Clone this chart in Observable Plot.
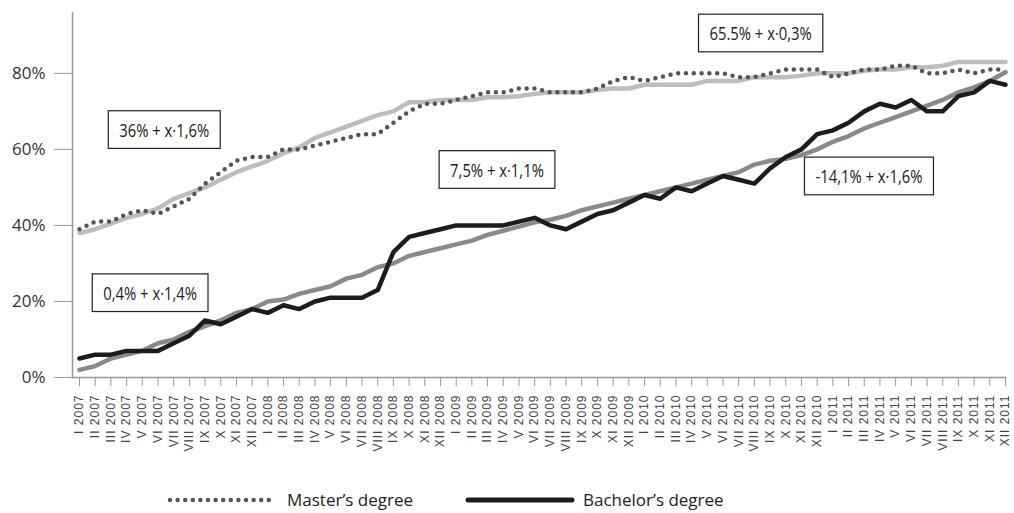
<!DOCTYPE html>
<html>
<head>
<meta charset="utf-8">
<script src="https://cdn.jsdelivr.net/npm/d3@7"></script>
<script src="https://cdn.jsdelivr.net/npm/@observablehq/plot@0.6"></script>
<style>
  html, body { margin: 0; padding: 0; background: #fff; }
  #wrap { position: relative; width: 1014px; height: 513px; }
  #legend { position: relative; height: 43px; font-family: "Open Sans", sans-serif; font-size: 17px; color: #222; }
  #legend .item { position: absolute; top: 18px; height: 24px; line-height: 24px; }
  #legend svg { position: absolute; top: 18px; }
  g[aria-label="x-axis tick label"] text { letter-spacing: 1px; }
</style>
</head>
<body>
<div id="wrap">
  <div id="chart"></div>
  <div id="legend">
    <svg width="112" height="24" style="left:166px">
      <line x1="4" x2="108" y1="12" y2="12" stroke="#555" stroke-width="4.5" stroke-dasharray="0 7.6" stroke-linecap="round"></line>
    </svg>
    <div class="item" style="left:287px">Master’s degree</div>
    <svg width="112" height="24" style="left:464px">
      <line x1="4" x2="108" y1="12" y2="12" stroke="#1c1c1c" stroke-width="5" stroke-linecap="round"></line>
    </svg>
    <div class="item" style="left:583px">Bachelor’s degree</div>
  </div>
</div>
<script>
// Month tick labels (categories)
const romans = ["I","II","III","IV","V","VI","VII","VIII","IX","X","XI","XII"];
const years = [2007, 2008, 2009, 2010, 2011];
const months = years.flatMap(y => romans.map(r => r + " " + y));

// Series values (percent)
const master = [39,41,41,43,44,43,45,47,51,54,57,58,58,60,60,61,62,63,64,64,67,70,72,72,73,74,75,75,76,76,75,75,75,76,78,79,78,79,80,80,80,80,79,79,80,81,81,81,79,80,81,81,82,82,80,80,81,80,81,81];
const masterTrend = [38,39,40.5,42,43,44.5,47,48.5,50,52,54,55.5,57,59,60.5,63,64.5,66,67.5,69,70,72.4,72.4,73,73,73,73.7,73.7,74,74.6,75,75,75,75.6,76,76,77,77,77,77,78,78,78,79,79,79,79.4,80,80,80,80.7,81,81,81.6,81.6,82,83,83,83,83];
const bachelor = [5,6,6,7,7,7,9,11,15,14,16,18,17,19,18,20,21,21,21,23,33,37,38,39,40,40,40,40,41,42,40,39,41,43,44,46,48,47,50,49,51,53,52,51,55,58,60,64,65,67,70,72,71,73,70,70,74,75,78,77];
const bachelorTrend = [2,3,5,6,7,9,10,12,13.5,15,17,18,20,20.5,22,23,24,26,27,29,30,32,33,34,35,36,37.5,38.6,39.7,40.8,41.5,42.5,44,45,46,47,48,49,50,51,52,53,54,56,57,57.5,58.5,60,62,63.5,65.5,67,68.5,70,71.5,73,75,76.3,78,80.3];

// Y tick values
const yTicks = [0, 20, 40, 60, 80];

// Annotation boxes (text, month index, percent)
const annText = ["36% + x·1,6%", "0,4% + x·1,4%", "7,5% + x·1,1%", "65.5% + x·0,3%", "-14,1% + x·1,6%"];
const annX = [5.4, 4.5, 26.6, 43.4, 50.3];
const annY = [63.3, 20.4, 52.8, 88.7, 51.1];

const rows = months.map((m, i) => ({
  i, m,
  master: master[i], masterTrend: masterTrend[i],
  bachelor: bachelor[i], bachelorTrend: bachelorTrend[i]
}));
const ann = annText.map((t, k) => ({t, x: annX[k], y: annY[k]}));

const squeeze = 0.78;

const chart = Plot.plot({
  width: 1014,
  height: 470,
  marginLeft: 72,
  marginRight: 9,
  marginTop: 12,
  marginBottom: 93,
  insetLeft: 7,
  x: {domain: [0, months.length - 1]},
  y: {domain: [0, 96]},
  style: {fontFamily: "'Open Sans', sans-serif", background: "white", color: "#333"},
  marks: [
    Plot.frame({anchor: "left", stroke: "#999", strokeWidth: 1.5}),
    Plot.frame({anchor: "bottom", stroke: "#999", strokeWidth: 1.5}),
    Plot.axisY({ticks: yTicks, tickFormat: d => d + "%", tickSize: 18, tickPadding: 9, fontSize: 17, stroke: "#999", fill: "#333", label: null}),
    Plot.axisX({ticks: d3.range(months.length), tickFormat: i => months[i], tickRotate: -90, tickSize: 9, tickPadding: 8, fontSize: 12, stroke: "#999", fill: "#444", fontFamily: "'Liberation Sans', Arial, sans-serif", label: null}),
    Plot.line(rows, {x: "i", y: "masterTrend", stroke: "#bdbdbd", strokeWidth: 4.5}),
    Plot.line(rows, {x: "i", y: "bachelorTrend", stroke: "#8a8a8a", strokeWidth: 4.5}),
    Plot.line(rows, {x: "i", y: "bachelor", stroke: "#1c1c1c", strokeWidth: 4.5}),
    Plot.line(rows, {x: "i", y: "master", stroke: "#555", strokeWidth: 4.5, strokeDasharray: "0 7.8", strokeLinecap: "round"}),
    Plot.text(ann, {x: "x", y: "y", text: "t", fontSize: 19, fontFamily: "'Open Sans', sans-serif", fill: "#222"})
  ]
});
document.getElementById("chart").appendChild(chart);

// Condense the annotation texts and draw boxes around them
const svgEl = chart.tagName.toLowerCase() === "svg" ? chart : chart.querySelector("svg");
d3.select(svgEl).selectAll("text").filter(function() { return annText.includes(this.textContent); }).each(function() {
  const tr = this.getAttribute("transform") || "";
  const m = /translate\(\s*([-\d.e]+)[ ,]+([-\d.e]+)\s*\)/.exec(tr);
  const tx = m ? +m[1] : +(this.getAttribute("x") || 0);
  const ty = m ? +m[2] : +(this.getAttribute("y") || 0);
  this.setAttribute("transform", `translate(${tx},${ty}) scale(${squeeze},1)`);
  this.removeAttribute("x");
  this.removeAttribute("y");
  const b = this.getBBox();
  const w = b.width * squeeze;
  const x0 = tx + b.x * squeeze;
  d3.select(this.parentNode).insert("rect", () => this)
    .attr("x", x0 - 11).attr("y", ty + b.y - 6)
    .attr("width", w + 22).attr("height", b.height + 12)
    .attr("fill", "white").attr("stroke", "#222").attr("stroke-width", 1.2);
});
</script>
</body>
</html>
